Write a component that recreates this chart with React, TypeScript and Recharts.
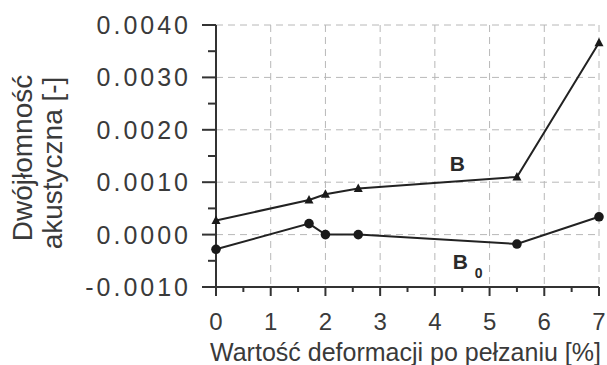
import React from 'react';
import { LineChart, Line, XAxis, YAxis, CartesianGrid, ReferenceDot } from 'recharts';

const deformation = [0, 1.7, 2, 2.6, 5.5, 7];
const birefringenceB = [0.00027, 0.00066, 0.00077, 0.00088, 0.0011, 0.00366];
const birefringenceB0 = [-0.00028, 0.00021, 0.0, 0.0, -0.00018, 0.00034];

const xTicks = [0, 0.5, 1, 1.5, 2, 2.5, 3, 3.5, 4, 4.5, 5, 5.5, 6, 6.5, 7];
const yTicks = [-0.001, -0.0005, 0, 0.0005, 0.001, 0.0015, 0.002, 0.0025, 0.003, 0.0035, 0.004];
const xGrid = [1, 2, 3, 4, 5, 6, 7];
const yGrid = [0, 0.001, 0.002, 0.003, 0.004];

const data = deformation.map((x, i) => ({ x, b: birefringenceB[i], b0: birefringenceB0[i] }));

const FONT = '"Liberation Sans", Arial, sans-serif';
const INK = '#3a3a3a';
const AXIS = '#333';

const isMajorX = (v: number) => Math.abs(v - Math.round(v)) < 1e-6;
const isMajorY = (v: number) => Math.round(v * 10000) % 10 === 0;

const XTick = (props: any) => {
    const { x, y, payload } = props;
    const major = isMajorX(payload.value);
    return (
        <g>
            <line x1={x} y1={y} x2={x} y2={y + (major ? 9 : 5)} stroke={AXIS} strokeWidth={2} />
            {major && (
                <text x={x} y={y + 43} textAnchor="middle" fontSize={24} fontFamily={FONT} fill={INK}>
                    {payload.value}
                </text>
            )}
        </g>
    );
};

const YTick = (props: any) => {
    const { x, y, payload } = props;
    const major = isMajorY(payload.value);
    return (
        <g>
            <line x1={x} y1={y} x2={x - (major ? 14 : 8)} y2={y} stroke={AXIS} strokeWidth={2} />
            {major && (
                <text x={x - 25} y={y} dy="0.36em" textAnchor="end" fontSize={25} letterSpacing={3} fontFamily={FONT} fill={INK}>
                    {payload.value.toFixed(4)}
                </text>
            )}
        </g>
    );
};

const YLabel = () => (
    <g fontFamily={FONT} fontSize={28} fill={INK}>
        <text x={22} y={158} transform="rotate(-90 22 158)" textAnchor="middle" dominantBaseline="central">
            Dwójłomność
        </text>
        <text x={52} y={163} transform="rotate(-90 52 163)" textAnchor="middle" dominantBaseline="central">
            akustyczna [-]
        </text>
    </g>
);

const Triangle = (props: any) => {
    const { cx, cy, index } = props;
    if (cx == null || cy == null) return <g key={index} />;
    return <path key={index} d={`M${cx},${cy - 5} L${cx + 4.5},${cy + 3.5} L${cx - 4.5},${cy + 3.5} Z`} fill="#1a1a1a" />;
};

const Circle = (props: any) => {
    const { cx, cy, index } = props;
    if (cx == null || cy == null) return <g key={index} />;
    return <circle key={index} cx={cx} cy={cy} r={4.8} fill="#1a1a1a" />;
};

const SeriesName = (text: string, sub?: string) => (props: any) => {
    const { cx, cy } = props;
    return (
        <text x={cx} y={cy} dy="0.36em" textAnchor="middle" fontFamily={FONT} fontWeight="bold" fontSize={21} fill="#2a2a2a">
            {text}
            {sub && (
                <tspan fontSize={14} dx={7} dy={9}>
                    {sub}
                </tspan>
            )}
        </text>
    );
};

export default function App() {
    return (
        <div style={{ position: 'absolute', left: 0, top: 0, background: '#fff' }}>
            <LineChart width={607} height={365} data={data} margin={{ top: 25, right: 8, bottom: 0, left: 0 }}>
                <CartesianGrid
                    stroke="#b8b8b8"
                    strokeDasharray="7 5"
                    verticalValues={xGrid}
                    horizontalValues={yGrid}
                />
                <XAxis
                    dataKey="x"
                    type="number"
                    domain={[0, 7]}
                    ticks={xTicks}
                    interval={0}
                    height={78}
                    tickSize={0}
                    tickMargin={0}
                    tickLine={false}
                    axisLine={{ stroke: AXIS, strokeWidth: 2 }}
                    tick={<XTick />}
                    label={{
                        value: 'Wartość deformacji po pełzaniu [%]',
                        position: 'insideBottom',
                        offset: 4,
                        dx: -2,
                        style: { fontFamily: FONT, fontSize: 25, fill: INK },
                    }}
                />
                <YAxis
                    type="number"
                    domain={[-0.001, 0.004]}
                    ticks={yTicks}
                    interval={0}
                    width={216}
                    tickSize={0}
                    tickMargin={0}
                    tickLine={false}
                    axisLine={{ stroke: AXIS, strokeWidth: 2 }}
                    tick={<YTick />}
                    label={<YLabel />}
                />
                <Line
                    dataKey="b"
                    stroke="#222"
                    strokeWidth={2}
                    dot={Triangle}
                    activeDot={false}
                    isAnimationActive={false}
                />
                <Line
                    dataKey="b0"
                    stroke="#222"
                    strokeWidth={2}
                    dot={Circle}
                    activeDot={false}
                    isAnimationActive={false}
                />
                <ReferenceDot x={4.41} y={0.00135} r={0} shape={SeriesName('B')} />
                <ReferenceDot x={4.6} y={-0.00052} r={0} shape={SeriesName('B', '0')} />
            </LineChart>
        </div>
    );
}
